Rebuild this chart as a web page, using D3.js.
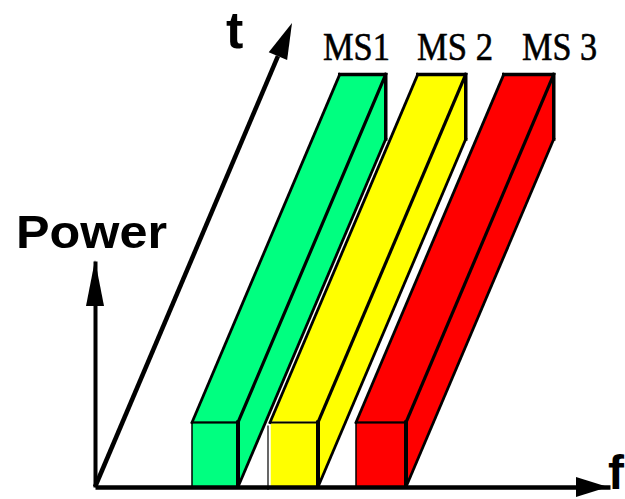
<!DOCTYPE html>
<html>
<head>
<meta charset="utf-8">
<script src="https://cdn.jsdelivr.net/npm/d3@7/dist/d3.min.js"></script>
<style>
  html, body { margin: 0; padding: 0; background: #fff; }
  svg { display: block; }
</style>
</head>
<body>
<div id="chart"></div>
<script>
// ---- data ----
const categories = ["MS1", "MS 2", "MS 3"];
const freqStart  = [1.94, 3.50, 5.22];   // frequency band start (f units)
const freqEnd    = [2.86, 4.46, 6.22];   // frequency band end
const powerLevel = [1.0, 1.0, 1.0];      // power of each channel
const duration   = [0.75, 0.75, 0.75];   // extent along time axis
const barColors  = ["#00FF80", "#FFFF00", "#FF0000"];
const axisLabels = ["Power", "t", "f"];

// ---- layout ----
const W = 625, H = 499;
const svg = d3.select("#chart").append("svg").attr("width", W).attr("height", H);

const x  = d3.scaleLinear().domain([0, 10.3]).range([95, 610]);
const y  = d3.scaleLinear().domain([0, 3.5]).range([487, 261]);
const tX = d3.scaleLinear().domain([0, 1]).range([0, 197]);
const tY = d3.scaleLinear().domain([0, 1]).range([0, -464]);
const proj = (f, p, t) => [x(f) + tX(t), y(p) + tY(t)];
const line = d3.line();

// ---- t axis (oblique) ----
const o = proj(0, 0, 0), tEnd = proj(0, 0, 1);
const ux = tEnd[0] - o[0], uy = tEnd[1] - o[1];
const ul = Math.hypot(ux, uy), dx = ux / ul, dy = uy / ul;
const headL = 36, headW = 10;
const tBase = [tEnd[0] - dx * headL, tEnd[1] - dy * headL];
svg.append("path").attr("d", line([o, tBase]))
  .attr("stroke", "#000").attr("stroke-width", 4.5).attr("fill", "none");
svg.append("path")
  .attr("d", line([tEnd, [tBase[0] - dy * headW, tBase[1] + dx * headW],
                   [tBase[0] + dy * headW, tBase[1] - dx * headW]]) + "Z")
  .attr("fill", "#000");

// ---- bars (3D boxes) ----
categories.forEach((c, i) => {
  const f0 = freqStart[i], f1 = freqEnd[i], p = powerLevel[i], d = duration[i];
  const col = barColors[i];
  const FTL = proj(f0, p, 0), FTR = proj(f1, p, 0), FBR = proj(f1, 0, 0);
  const BTL = proj(f0, p, d), BTR = proj(f1, p, d), BBR = proj(f1, 0, d);
  const g = svg.append("g");
  // top face
  g.append("path").attr("d", line([FTL, FTR, BTR, BTL]) + "Z").attr("fill", col);
  // side face
  g.append("path").attr("d", line([FTR, BTR, BBR, FBR]) + "Z").attr("fill", col);
  // front face
  g.append("rect").attr("x", x(f0)).attr("y", y(p))
    .attr("width", x(f1) - x(f0)).attr("height", y(0) - y(p))
    .attr("fill", col)
    .attr("stroke", i === 1 ? "#fff" : "#000").attr("stroke-width", 1.5);
  if (i === 1) {
    g.append("path").attr("d", line([[x(f0) - 2, y(p) + 3], [x(f0) - 2, y(0) + 3]]))
      .attr("stroke", "#000").attr("stroke-width", 1.2);
  }
  const edge = (pts, w) => g.append("path").attr("d", line(pts))
    .attr("stroke", "#000").attr("stroke-width", w).attr("fill", "none")
    .attr("stroke-linecap", "square");
  edge([FTL, BTL], 2.8);        // top face left edge
  edge([FTR, BTR], 3.2);        // top/side ridge
  edge([FBR, BBR], 2.8);        // side lower edge
  edge([BTL, BTR, BBR], 3.5);   // back top + back right
  edge([FTR, FBR], 4);          // front right edge
  edge([[FTL[0], FTL[1]], [FTR[0], FTR[1]]], 2); // front top
});

// ---- f axis ----
const fAxis = svg.append("g").attr("transform", `translate(0,${y(0)})`)
  .call(d3.axisBottom(x).tickValues([]).tickSizeOuter(0));
fAxis.select(".domain").attr("stroke", "#000").attr("stroke-width", 4.5);
const fTip = [x(10.3) - 2, y(0)];
svg.append("path")
  .attr("d", line([fTip, [fTip[0] - 32, fTip[1] - 10], [fTip[0] - 32, fTip[1] + 10]]) + "Z")
  .attr("fill", "#000");

// ---- power axis ----
const pAxis = svg.append("g").attr("transform", `translate(${x(0)},0)`)
  .call(d3.axisLeft(y).tickValues([]).tickSizeOuter(0));
pAxis.select(".domain").attr("stroke", "#000").attr("stroke-width", 4);
const pTip = [x(0), y(3.5) - 1];
svg.append("path")
  .attr("d", line([pTip, [pTip[0] - 9, pTip[1] + 46], [pTip[0] + 9, pTip[1] + 46]]) + "Z")
  .attr("fill", "#000");

// ---- axis labels ----
const sans = "'Liberation Sans', Arial, sans-serif";
svg.append("text").attr("x", 16).attr("y", 248)
  .attr("font-family", sans).attr("font-weight", "bold").attr("font-size", 46)
  .attr("textLength", 151).attr("lengthAdjust", "spacingAndGlyphs")
  .text(axisLabels[0]);
svg.append("text").attr("x", 226).attr("y", 48)
  .attr("font-family", sans).attr("font-weight", "bold").attr("font-size", 52)
  .text(axisLabels[1]);
svg.append("text").attr("x", 608).attr("y", 489)
  .attr("font-family", sans).attr("font-weight", "bold").attr("font-size", 48)
  .text(axisLabels[2]);

// ---- channel labels ----
const labelX = [323, 417, 522];
const labelW = [67, 76, 75];
categories.forEach((c, i) => {
  svg.append("text").attr("x", labelX[i]).attr("y", 60)
    .attr("font-family", "'Liberation Serif', 'Times New Roman', serif")
    .attr("font-size", 40)
    .attr("stroke", "#000").attr("stroke-width", 0.6)
    .attr("textLength", labelW[i]).attr("lengthAdjust", "spacingAndGlyphs")
    .text(c);
});
</script>
</body>
</html>
